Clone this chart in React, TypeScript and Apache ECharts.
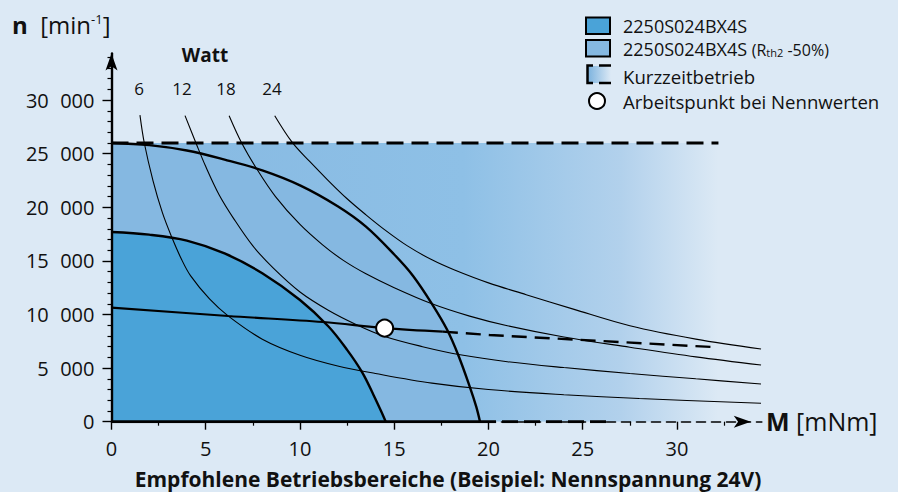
import React, { useEffect, useRef } from 'react';
import * as echarts from 'echarts';

// ---------- data ----------
const xTickValues = [0, 5, 10, 15, 20, 25, 30];
const yTickValues = [0, 5000, 10000, 15000, 20000, 25000, 30000];

// boundary of 2250S024BX4S (dark region)
const regionNominal = [
  [0, 17700], [2, 17450], [4, 16900], [6, 15700], [8, 13850], [10, 11350],
  [11.5, 8900], [12.5, 6700], [13.3, 4600], [13.9, 2500], [14.3, 1000], [14.55, 0],
];
// boundary of 2250S024BX4S (Rth2 -50%) (medium region)
const regionRth2 = [
  [0, 26000], [2, 25800], [4, 25300], [6, 24450], [8, 23450], [10, 22050],
  [12, 20100], [13.5, 18200], [15, 15600], [16, 13600], [17, 11000], [17.8, 8600],
  [18.4, 6200], [19.0, 3300], [19.35, 1400], [19.55, 0],
];
// Kurzzeitbetrieb (short-time operation) limits
const shortTermTop = [[0, 26000], [32.2, 26000]];
const shortTermBottom = [[19.55, 0], [26.5, 0]];
const nominalBase = [[0, 0], [19.55, 0]];

// power hyperbolas (Watt)
const wattLabels = ['6', '12', '18', '24'];
const watt6 = [
  [1.51, 28600], [1.74, 26000], [2.2, 22500], [2.7, 19500], [3.2, 17200], [3.7, 15200],
  [4.2, 13600], [5.2, 11450], [6.2, 9850], [8, 7700], [10, 6200], [12, 5200],
  [14, 4500], [17, 3600], [20, 3000], [24, 2520], [28, 2160], [34.46, 1720],
];
const watt12 = [
  [3.9, 28550], [4.48, 26000], [5.0, 23800], [5.7, 21200], [6.5, 18900], [7.5, 16400],
  [8.6, 14300], [10, 12100], [11.5, 10400], [13, 9050], [14.5, 7950], [16.5, 7000],
  [18.5, 6250], [21, 5600], [24, 5050], [27.5, 4500], [31, 4000], [34.46, 3520],
];
const watt18 = [
  [6.24, 28550], [6.9, 26030], [7.7, 23600], [8.7, 21000], [10, 18400], [11.2, 16500],
  [12.3, 15050], [13.5, 13800], [15, 12500], [17, 11000], [19, 9850], [21, 8950],
  [24, 7900], [27.5, 6950], [31, 6050], [34.46, 5290],
];
const watt24 = [
  [8.66, 28550], [9.6, 26030], [10.5, 24300], [11.5, 22500], [12.5, 20800], [13.5, 19300],
  [14.5, 17900], [15.7, 16400], [17, 15100], [18.2, 14150], [20, 12950], [22, 11850],
  [24.5, 10500], [27.5, 8950], [31, 7700], [34.46, 6780],
];
const wattCurves = [watt6, watt12, watt18, watt24];

// nominal voltage characteristic U_N
const unSolid = [[0, 10650], [6.19, 9860], [11.22, 9300], [14.49, 8730], [17.58, 8400]];
const unDashed = [[17.58, 8400], [20.05, 8090], [32.16, 6940]];
const operatingPoint = [[14.49, 8730]];

// ---------- styling ----------
const FONT = 'Open Sans, Noto Sans, sans-serif';
const BG = '#dce9f5';
const DARK = '#4aa3d8';
const MEDIUM = '#85b8e1';
const INK = '#111111';

const fmtThousands = (v: number) => String(v).replace(/\B(?=(\d{3})+(?!\d))/g, '\u2007');

export default function App() {
  const ref = useRef<HTMLDivElement>(null);

  useEffect(() => {
    if (!ref.current) return;
    const chart = echarts.init(ref.current, undefined, { renderer: 'svg' });

    const curveLine = (data: number[][], width: number) => ({
      type: 'line',
      data,
      showSymbol: false,
      symbol: 'none',
      smooth: 0.35,
      clip: false,
      silent: true,
      lineStyle: { color: '#000', width },
    });

    const series: any[] = [
      // gradient Kurzzeitbetrieb area
      {
        type: 'line', data: shortTermTop, symbol: 'none', silent: true,
        lineStyle: { width: 0 },
        areaStyle: {
          opacity: 1,
          color: new echarts.graphic.LinearGradient(0, 0, 1, 0, [
            { offset: 0, color: '#86b9e2' },
            { offset: 0.58, color: '#8ec0e6' },
            { offset: 0.84, color: '#b2d1ec' },
            { offset: 1, color: BG },
          ]),
        },
      },
      // medium region
      {
        type: 'line', data: regionRth2, symbol: 'none', smooth: 0.35, silent: true,
        lineStyle: { width: 0 }, areaStyle: { color: MEDIUM, opacity: 1 },
      },
      // dark region
      {
        type: 'line', data: regionNominal, symbol: 'none', smooth: 0.35, silent: true,
        lineStyle: { width: 0 }, areaStyle: { color: DARK, opacity: 1 },
      },
      // watt curves
      ...wattCurves.map((d) => curveLine(d, 1.1)),
      // region boundaries
      curveLine(regionRth2, 2.4),
      curveLine(regionNominal, 2.4),
      // base line along the x axis
      { type: 'line', data: nominalBase, symbol: 'none', silent: true, lineStyle: { color: '#000', width: 3 } },
      { type: 'line', data: shortTermBottom, symbol: 'none', silent: true, lineStyle: { color: '#000', width: 3, type: [16, 6] } },
      // top dashed limit
      { type: 'line', data: shortTermTop, symbol: 'none', silent: true, lineStyle: { color: '#000', width: 3, type: [17, 8] } },
      // U_N
      curveLine(unSolid, 2.2),
      { type: 'line', data: unDashed, symbol: 'none', silent: true, lineStyle: { color: '#000', width: 2.4, type: [15, 8] } },
      // operating point
      {
        type: 'scatter', data: operatingPoint, symbol: 'circle', symbolSize: 17, silent: true,
        itemStyle: { color: '#fff', borderColor: '#000', borderWidth: 2, opacity: 1 }, z: 5,
      },
    ];

    const text = (x: number, y: number, t: string, font: number, opts: any = {}) => ({
      type: 'text', x, y, silent: true,
      style: {
        text: t, fontSize: font, fontFamily: FONT, fill: INK,
        align: opts.align || 'left', verticalAlign: opts.verticalAlign || 'middle',
        fontWeight: opts.fontWeight || 'normal', rich: opts.rich,
      },
    });

    const wattX = [139, 182, 226, 272];

    const graphic: any[] = [
      // title of y axis
      text(12, 24, '{b|n}{r|  [min}{s|-1}{r|]}', 24, {
        rich: {
          b: { fontSize: 24, fontWeight: 'bold', fontFamily: FONT, fill: INK, verticalAlign: 'bottom' },
          r: { fontSize: 24, fontFamily: FONT, fill: INK, verticalAlign: 'bottom' },
          s: { fontSize: 13, fontFamily: FONT, fill: INK, verticalAlign: 'top' },
        },
      }),
      // x axis title
      text(766, 421, '{b|M}{r| [mNm]}', 25, {
        rich: {
          b: { fontSize: 25, fontWeight: 'bold', fontFamily: FONT, fill: INK, verticalAlign: 'bottom' },
          r: { fontSize: 25, fontFamily: FONT, fill: INK, verticalAlign: 'bottom' },
        },
      }),
      text(205, 55, 'Watt', 19, { align: 'center', fontWeight: 'bold' }),
      ...wattLabels.map((l, i) => text(wattX[i], 88, l, 17, { align: 'center' })),
      text(149, 292, '{u|U}{n|N}', 20, {
        rich: {
          u: { fontSize: 20, fontFamily: FONT, fill: INK, verticalAlign: 'bottom' },
          n: { fontSize: 12, fontFamily: FONT, fill: INK, verticalAlign: 'bottom' },
        },
      }),
      text(448, 479, 'Empfohlene Betriebsbereiche (Beispiel: Nennspannung 24V)', 21, { align: 'center', fontWeight: 'bold' }),
      // legend
      { type: 'rect', shape: { x: 586, y: 17.5, width: 24, height: 16.5 }, style: { fill: DARK, stroke: '#000', lineWidth: 2 } },
      { type: 'rect', shape: { x: 586, y: 40, width: 24, height: 16.5 }, style: { fill: MEDIUM, stroke: '#000', lineWidth: 2 } },
      {
        type: 'rect', shape: { x: 588, y: 66, width: 23, height: 17 },
        style: {
          fill: new echarts.graphic.LinearGradient(0, 0, 1, 0, [
            { offset: 0, color: '#7db3de' },
            { offset: 1, color: BG },
          ]),
        },
      },
      { type: 'polyline', shape: { points: [[593, 65.5], [587.5, 65.5], [587.5, 83], [593, 83]] }, style: { stroke: '#000', lineWidth: 2.5, fill: null } },
      { type: 'line', shape: { x1: 599, y1: 65.5, x2: 611, y2: 65.5 }, style: { stroke: '#000', lineWidth: 2.5 } },
      { type: 'line', shape: { x1: 599, y1: 83, x2: 611, y2: 83 }, style: { stroke: '#000', lineWidth: 2.5 } },
      { type: 'circle', shape: { cx: 597, cy: 101, r: 8 }, style: { fill: '#fff', stroke: '#000', lineWidth: 2 } },
      text(623, 26, '2250S024BX4S', 18),
      text(623, 48.5, '{a|2250S024BX4S }{b|(R}{c|th2}{b| -50%)}', 18, {
        rich: {
          a: { fontSize: 18, fontFamily: FONT, fill: INK, verticalAlign: 'bottom' },
          b: { fontSize: 16, fontFamily: FONT, fill: INK, verticalAlign: 'bottom' },
          c: { fontSize: 11, fontFamily: FONT, fill: INK, verticalAlign: 'bottom' },
        },
      }),
      text(623, 76, 'Kurzzeitbetrieb', 18.6),
      text(623, 101, 'Arbeitspunkt bei Nennwerten', 18.6),
    ];

    chart.setOption({
      animation: false,
      backgroundColor: BG,
      grid: { left: 111.5, top: 53.5, width: 650.3, height: 368.2, containLabel: false },
      xAxis: {
        type: 'value', min: 0, max: 34.5, interval: 5, z: 3,
        axisLine: {
          show: true, onZero: false, symbol: ['none', 'arrow'], symbolSize: [9, 17], symbolOffset: [0, -11],
          lineStyle: { color: '#000', width: 1.6, type: [9, 6] },
        },
        axisTick: { show: true, length: 8, customValues: xTickValues, lineStyle: { color: '#000', width: 1.4 } },
        minorTick: { show: true, splitNumber: 2, length: 4, lineStyle: { color: '#000', width: 1.2 } },
        axisLabel: { customValues: xTickValues, fontSize: 20, fontFamily: FONT, color: INK, margin: 17 },
        splitLine: { show: false },
      },
      yAxis: {
        type: 'value', min: 0, max: 34350, interval: 5000, z: 3,
        axisLine: {
          show: true, onZero: false, symbol: ['none', 'arrow'], symbolSize: [9, 17],
          lineStyle: { color: '#000', width: 2.4 },
        },
        axisTick: { show: true, length: 9, customValues: yTickValues, lineStyle: { color: '#000', width: 1.4 } },
        minorTick: { show: true, splitNumber: 5, length: 4, lineStyle: { color: '#000', width: 1.2 } },
        axisLabel: {
          customValues: yTickValues, fontSize: 20, fontFamily: FONT, color: INK, margin: 17,
          formatter: (v: number) => fmtThousands(v),
        },
        splitLine: { show: false },
      },
      series,
      graphic,
    });

    return () => chart.dispose();
  }, []);

  return (
    <div
      ref={ref}
      style={{ position: 'absolute', left: 0, top: 0, width: 898, height: 492 }}
    />
  );
}
